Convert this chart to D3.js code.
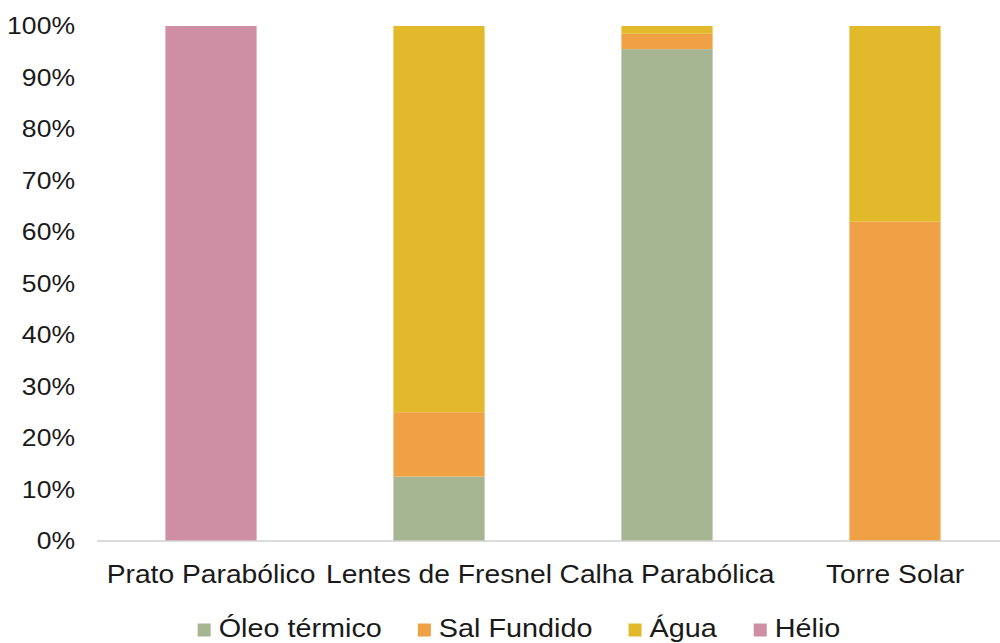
<!DOCTYPE html>
<html>
<head>
<meta charset="utf-8">
<script src="https://cdn.jsdelivr.net/npm/d3@7/dist/d3.min.js"></script>
<style>
  html, body { margin: 0; padding: 0; background: #fff; }
  svg { display: block; font-family: "Liberation Sans", Arial, sans-serif; }
</style>
</head>
<body>
<svg id="chart" width="1000" height="643"></svg>
<script>
// Technologies on the x axis
const categories = ["Prato Parabólico", "Lentes de Fresnel", "Calha Parabólica", "Torre Solar"];
// Share (%) of each heat-transfer fluid per technology
const seriesNames = ["Óleo térmico", "Sal Fundido", "Água", "Hélio"];
const oleoTermico = [0, 12.5, 95.5, 0];
const salFundido  = [0, 12.5, 3, 62];
const agua        = [0, 75, 1.5, 38];
const helio       = [100, 0, 0, 0];
const yTicks = [0, 10, 20, 30, 40, 50, 60, 70, 80, 90, 100];
const colors = ["#a6b592", "#f0a145", "#e2b92b", "#ce8fa4"];

const svg = d3.select("#chart");
const margin = { left: 97, right: -9, top: 26, bottom: 102 };
const W = 1000, H = 643;
const textColor = "#1a1a1a";
const stretch = 1.13; // slightly wide lettering

const x = d3.scaleBand().domain(categories)
  .range([margin.left, W - margin.right]).paddingInner(0.6).paddingOuter(0.3);
const y = d3.scaleLinear().domain([0, 100]).range([H - margin.bottom, margin.top]);

const rows = categories.map((c, i) => ({
  cat: c, "Óleo térmico": oleoTermico[i], "Sal Fundido": salFundido[i], "Água": agua[i], "Hélio": helio[i]
}));
const stacked = d3.stack().keys(seriesNames)(rows);

svg.append("g").selectAll("g").data(stacked).join("g")
  .attr("fill", (d, i) => colors[i])
  .selectAll("rect").data(d => d).join("rect")
  .attr("x", d => x(d.data.cat))
  .attr("width", x.bandwidth())
  .attr("y", d => y(d[1]))
  .attr("height", d => Math.max(0, y(d[0]) - y(d[1])));

// y axis labels (no axis line)
const yAxis = d3.axisLeft(y).tickValues(yTicks).tickFormat(d => d + "%").tickSize(0).tickPadding(0);
const gy = svg.append("g").attr("transform", "translate(75,0)").call(yAxis);
gy.select(".domain").remove();
gy.selectAll("text").attr("font-size", 23.5).attr("fill", textColor)
  .attr("font-family", "'Liberation Sans', Arial, sans-serif")
  .attr("transform", `scale(${stretch},1)`);

// x axis baseline and labels
const xAxis = d3.axisBottom(x).tickSize(0).tickPadding(0);
const gx = svg.append("g").attr("transform", `translate(0,${y(0)})`).call(xAxis);
gx.select(".domain").attr("stroke", "#d0d0d0").attr("stroke-width", 1.5)
  .attr("d", `M${margin.left},0H${W}`);
gx.selectAll("text").attr("font-size", 25).attr("fill", textColor).attr("dy", 0)
  .attr("y", 42).attr("font-family", "'Liberation Sans', Arial, sans-serif")
  .attr("transform", `scale(${stretch},1)`);

// legend
const legend = svg.append("g");
const items = legend.selectAll("g").data(seriesNames).join("g");
items.append("rect").attr("width", 13).attr("height", 13).attr("y", -13.5)
  .attr("fill", (d, i) => colors[i]);
items.append("text").attr("x", 21 / stretch).attr("y", 0).attr("font-size", 25.5)
  .attr("fill", textColor).attr("transform", `scale(${stretch},1)`)
  .text(d => d);
let lx = 0;
items.each(function () {
  const tw = d3.select(this).select("text").node().getBBox().width * stretch;
  d3.select(this).attr("transform", `translate(${lx},0)`);
  lx += 21 + tw + 36;
});
const totalW = lx - 36;
legend.attr("transform", `translate(${519 - totalW / 2},637)`);
</script>
</body>
</html>
